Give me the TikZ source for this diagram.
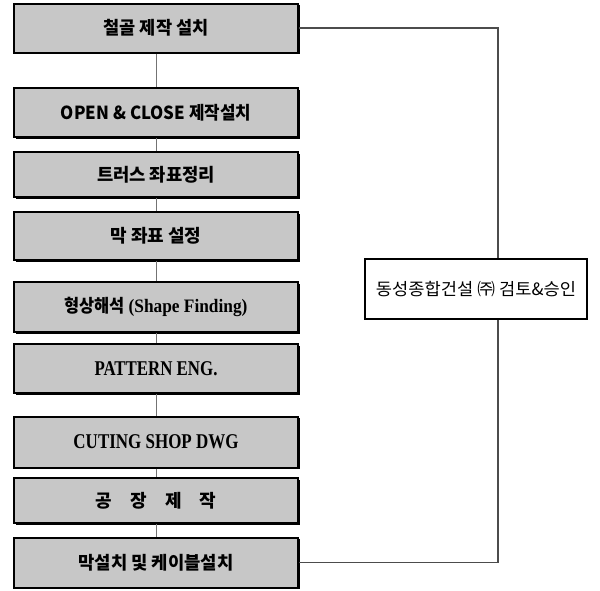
\documentclass[tikz,border=0pt]{standalone}
\usepackage{fontspec}
\usepackage{graphicx}
\usetikzlibrary{shadows}
\newfontfamily\kr{Noto Sans CJK KR}
\newfontfamily\tnr{Liberation Serif}
\newcommand{\fitw}[2]{\resizebox{#1}{\height}{#2}}
\tikzset{
  stepbox/.style={draw=black, line width=2pt, fill=black!22, minimum width=284pt,
    inner sep=0pt, drop shadow={shadow xshift=1.6pt, shadow yshift=-1.6pt, fill=black, opacity=1},
    font=\kr\bfseries\fontsize{18pt}{20pt}\selectfont},
  reviewbox/.style={draw=black, line width=2pt, fill=white, minimum width=222pt, minimum height=60pt,
    inner sep=0pt, drop shadow={shadow xshift=1.4pt, shadow yshift=-1.4pt, fill=black, opacity=1},
    font=\kr\fontsize{17pt}{19pt}\selectfont},
  link/.style={draw=black!55, line width=0.9pt},
  loop/.style={draw=black!70, line width=1.1pt}
}
\begin{document}
\begin{tikzpicture}[x=1pt,y=-1pt]
\useasboundingbox (0,0) rectangle (600,590);
\coordinate (rx) at (498,0);
\node[stepbox, minimum height=49pt] (b1) at (156,28) {\fitw{105pt}{철골 제작 설치}};
\node[stepbox, minimum height=49pt] (b2) at (156,112.5) {\fitw{190pt}{OPEN \& CLOSE 제작설치}};
\node[stepbox, minimum height=45pt] (b3) at (156,174.5) {\fitw{118pt}{트러스 좌표정리}};
\node[stepbox, minimum height=48pt] (b4) at (156,236) {\fitw{91pt}{막 좌표 설정}};
\node[stepbox, minimum height=50pt] (b5) at (156,307) {\fitw{183pt}{형상해석 {\tnr\bfseries\fontsize{19pt}{21pt}\selectfont (Shape Finding)}}};
\node[stepbox, minimum height=49pt] (b6) at (156,368.5) {\fitw{123pt}{\tnr\bfseries\fontsize{21pt}{23pt}\selectfont PATTERN ENG.}};
\node[stepbox, minimum height=51pt] (b7) at (156,442) {\fitw{165pt}{\tnr\bfseries\fontsize{21pt}{23pt}\selectfont CUTING SHOP DWG}};
\node[stepbox, minimum height=45pt] (b8) at (156,500.5) {공\hspace{18pt}장\hspace{18pt}제\hspace{18pt}작};
\node[stepbox, minimum height=50pt] (b9) at (156,562.5) {\fitw{155pt}{막설치 및 케이블설치}};
\node[reviewbox] (rb) at (476,289) {\fitw{200pt}{동성종합건설 ㈜ 검토\&승인}};
\foreach \a/\b in {b1/b2,b2/b3,b3/b4,b4/b5,b5/b6,b6/b7,b7/b8,b8/b9}
  \draw[link] (\a.south) -- (\b.north);
\draw[loop] (b1.east) -| (rx |- rb.north);
\draw[loop] (rx |- rb.south) |- (b9.east);
\end{tikzpicture}
\end{document}
